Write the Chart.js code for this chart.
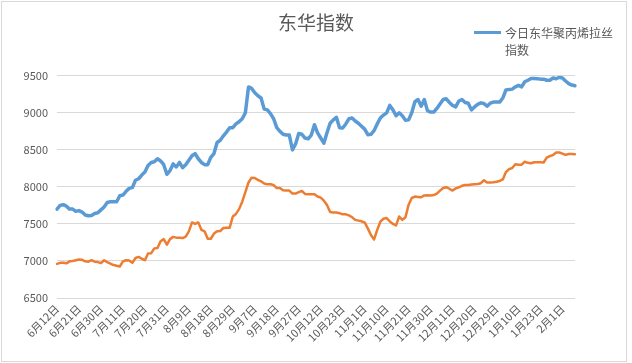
<!DOCTYPE html>
<html>
<head>
<meta charset="utf-8">
<title>东华指数</title>
<script src="https://cdn.jsdelivr.net/npm/chart.js"></script>
<style>
    body { margin: 0; background: #fff; }
    #wrap { position: relative; width: 632px; height: 363px; }
    #frame { position: absolute; left: 1px; top: 1px; width: 626px; height: 361px; box-sizing: border-box; border: 1px solid #d9d9d9; pointer-events: none; }
    #legend { position: absolute; left: 474px; top: 24px; font-family: "Noto Sans CJK SC", "Noto Sans", sans-serif; font-size: 12px; line-height: 17px; color: #595959; }
    #legend .swatch { position: absolute; left: 0; top: 7px; width: 27px; height: 3px; background: #5b9bd5; }
    #legend .text { margin-left: 31px; }
</style>
</head>
<body>
<div id="wrap">
    <canvas id="myChart" width="632" height="363"></canvas>
    <div id="frame"></div>
    <div id="legend"><span class="swatch"></span><div class="text">今日东华聚丙烯拉丝<br>指数</div></div>
</div>
<script>
// tick labels (one every 7 trading days)
const tickLabels = ['6月12日', '6月21日', '6月30日', '7月11日', '7月20日', '7月31日', '8月9日', '8月18日',
    '8月29日', '9月7日', '9月18日', '9月27日', '10月12日', '10月23日', '11月1日', '11月10日',
    '11月21日', '11月30日', '12月11日', '12月20日', '12月29日', '1月10日', '1月23日', '2月1日'];

// 今日东华聚丙烯拉丝指数
const drawnIndex = [
    7700, 7750, 7760, 7740, 7700, 7700, 7670, 7680, 7660, 7620,
    7610, 7615, 7640, 7650, 7690, 7730, 7790, 7800, 7800, 7800,
    7880, 7890, 7940, 7980, 7990, 8090, 8110, 8160, 8200, 8290,
    8330, 8340, 8380, 8350, 8300, 8170, 8220, 8310, 8270, 8330,
    8260, 8300, 8360, 8420, 8450, 8380, 8330, 8300, 8300, 8400,
    8450, 8600, 8630, 8690, 8740, 8800, 8800, 8850, 8880, 8920,
    9000, 9350, 9330, 9270, 9230, 9200, 9050, 9040, 8990, 8920,
    8800, 8750, 8710, 8700, 8700, 8500, 8580, 8720, 8710, 8660,
    8650, 8700, 8840, 8730, 8660, 8590, 8730, 8860, 8905, 8940,
    8800, 8795, 8850, 8920, 8930, 8890, 8860, 8820, 8780, 8705,
    8710, 8760, 8850, 8930, 8970, 9000, 9100, 9040, 8960, 9000,
    8960, 8900, 8905, 9000, 9150, 9180, 9090, 9180, 9030, 9010,
    9010, 9060, 9120, 9180, 9190, 9140, 9100, 9080, 9160, 9180,
    9140, 9130, 9040, 9080, 9115, 9135, 9125, 9090, 9130, 9145,
    9145, 9145, 9200, 9310, 9315, 9320, 9350, 9370, 9350, 9420,
    9440, 9465, 9465, 9460, 9455, 9455, 9440, 9440, 9470, 9460,
    9480, 9470, 9430, 9395, 9375, 9365
];

// second series (orange, not in legend)
const secondIndex = [
    6960, 6975, 6975, 6968, 6995, 7000, 7010, 7020, 7015, 6995,
    6990, 7010, 6990, 6985, 6970, 7010, 6985, 6965, 6945, 6935,
    6925, 6995, 7010, 7005, 6975, 7040, 7055, 7030, 7010, 7100,
    7105, 7170, 7175, 7265, 7295, 7220, 7295, 7325, 7315, 7315,
    7310, 7330, 7400, 7520, 7500, 7520, 7420, 7400, 7300, 7300,
    7370, 7400, 7405, 7445, 7450, 7450, 7600, 7635, 7700, 7800,
    7930, 8060, 8125, 8120, 8095, 8075, 8045, 8035, 8035, 8025,
    7985, 7985, 7955, 7950, 7950, 7910, 7910, 7930, 7945, 7905,
    7900, 7900, 7900, 7870, 7855, 7815, 7755, 7660, 7655, 7655,
    7645, 7630, 7630, 7615, 7590, 7555, 7545, 7535, 7520, 7440,
    7350, 7290, 7420, 7530, 7570, 7580, 7535, 7500, 7480, 7600,
    7555, 7590, 7760, 7850, 7869, 7865, 7860, 7885, 7887, 7885,
    7890, 7910, 7950, 7985, 7996, 7975, 7950, 7980, 7995, 8015,
    8025, 8027, 8032, 8036, 8040, 8050, 8090, 8060, 8060, 8063,
    8070, 8080, 8100, 8200, 8240, 8255, 8306, 8300, 8300, 8340,
    8325, 8320, 8333, 8333, 8333, 8330, 8395, 8415, 8430, 8465,
    8465, 8450, 8432, 8445, 8445, 8441
];

const tickEvery = 7;
const fontFamily = '"Noto Sans CJK SC", "Noto Sans", sans-serif';
const textColor = '#595959';

// one category per trading day, only every 7th one gets a date
const labels = drawnIndex.map((v, i) => (i % tickEvery === 0 ? (tickLabels[i / tickEvery] || '') : ''));

var ctx = document.getElementById('myChart');
new Chart(ctx, {
    type: 'line',
    data: {
        labels: labels,
        datasets: [{
            label: '今日东华聚丙烯拉丝指数',
            data: drawnIndex,
            borderColor: '#5b9bd5',
            backgroundColor: '#5b9bd5',
            borderWidth: 3.5,
            pointRadius: 0,
            tension: 0,
            borderJoinStyle: 'round',
            borderCapStyle: 'round'
        }, {
            label: '系列2',
            data: secondIndex,
            borderColor: '#ed7d31',
            backgroundColor: '#ed7d31',
            borderWidth: 2.5,
            pointRadius: 0,
            tension: 0,
            borderJoinStyle: 'round',
            borderCapStyle: 'round'
        }]
    },
    options: {
        responsive: false,
        animation: false,
        devicePixelRatio: 1,
        plugins: {
            legend: { display: false },
            tooltip: { enabled: false },
            title: {
                display: true,
                text: '东华指数',
                color: textColor,
                font: { family: fontFamily, size: 19, weight: 'normal' },
                padding: { top: 11, bottom: 42 }
            }
        },
        scales: {
            x: {
                grid: { display: false, drawTicks: false },
                border: { display: false },
                ticks: {
                    autoSkip: false,
                    minRotation: 45,
                    maxRotation: 45,
                    padding: 4,
                    color: textColor,
                    font: { family: fontFamily, size: 11 }
                },
                // keep the plot clear of the right edge, the title stays centred on the canvas
                afterFit: function (scale) {
                    scale.height = 65;
                    scale.paddingRight = 57;
                }
            },
            y: {
                min: 6500,
                max: 9500,
                grid: { color: '#d9d9d9', drawTicks: false },
                border: { display: false },
                ticks: {
                    stepSize: 500,
                    padding: 9,
                    color: textColor,
                    font: { family: fontFamily, size: 11 },
                    callback: function (value) { return String(value); }
                },
                afterFit: function (scale) { scale.width = 57; }
            }
        }
    }
});
</script>
</body>
</html>
